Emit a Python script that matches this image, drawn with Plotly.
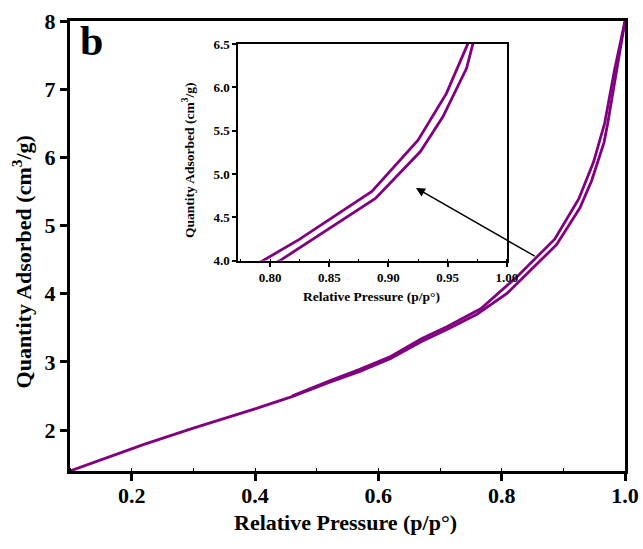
import plotly.graph_objects as go

# Adsorption branch (lower)
ads_p = [0.10, 0.16, 0.22, 0.30, 0.40, 0.46, 0.52, 0.57, 0.62, 0.67, 0.712, 0.76,
         0.808, 0.825, 0.859, 0.889, 0.927, 0.946, 0.966, 0.972, 0.986, 1.0]
ads_q = [1.40, 1.60, 1.79, 2.03, 2.31, 2.49, 2.70, 2.86, 3.05, 3.30, 3.48, 3.70,
         4.00, 4.15, 4.45, 4.72, 5.26, 5.66, 6.22, 6.50, 7.25, 8.0]
# Desorption branch (upper)
des_p = [0.46, 0.52, 0.57, 0.62, 0.67, 0.712, 0.766, 0.794, 0.808, 0.825, 0.886,
         0.925, 0.949, 0.967, 0.983, 1.0]
des_q = [2.50, 2.72, 2.89, 3.08, 3.34, 3.52, 3.78, 4.00, 4.11, 4.25, 4.80,
         5.39, 5.93, 6.50, 7.28, 8.0]

main_xticks = [0.2, 0.4, 0.6, 0.8, 1.0]
main_yticks = [2, 3, 4, 5, 6, 7, 8]
inset_xticks = [0.80, 0.85, 0.90, 0.95, 1.00]
inset_yticks = [4.0, 4.5, 5.0, 5.5, 6.0, 6.5]

PURPLE = "#800080"
FONT = "Liberation Serif"

fig = go.Figure()
for xa, ya in [("x", "y"), ("x2", "y2")]:
    fig.add_trace(go.Scatter(x=ads_p, y=ads_q, mode="lines", xaxis=xa, yaxis=ya,
                             line=dict(color=PURPLE, width=2.8), showlegend=False))
    fig.add_trace(go.Scatter(x=des_p, y=des_q, mode="lines", xaxis=xa, yaxis=ya,
                             line=dict(color=PURPLE, width=2.8), showlegend=False))

tf_main = dict(family=FONT, size=22, color="black", weight="bold")
tf_inset = dict(family=FONT, size=13, color="black", weight="bold")

fig.update_layout(
    width=643, height=549,
    margin=dict(l=70, r=18, t=21, b=78, autoexpand=False),
    plot_bgcolor="white", paper_bgcolor="white",
    font=dict(family=FONT, color="black"),
    xaxis=dict(range=[0.1, 1.0], domain=[0, 1], tickvals=main_xticks,
               ticktext=["0.2", "0.4", "0.6", "0.8", "1.0"], automargin=False,
               ticks="outside", ticklen=7, tickwidth=3, tickcolor="black",
               ticklabelstandoff=-4,
               showline=True, linewidth=3, linecolor="black", mirror=True,
               showgrid=False, zeroline=False, tickfont=tf_main,
               minor=dict(dtick=0.1, tick0=0.1, ticks="inside", ticklen=3, tickwidth=1, tickcolor="black")),
    yaxis=dict(range=[1.4, 8.0], domain=[0, 1], tickvals=main_yticks, automargin=False,
               ticks="outside", ticklen=7, tickwidth=3, tickcolor="black",
               showline=True, linewidth=3, linecolor="black", mirror=True,
               showgrid=False, zeroline=False, tickfont=tf_main),
    xaxis2=dict(range=[0.773, 1.0], domain=[0.303, 0.787], anchor="y2", automargin=False,
                tickvals=inset_xticks, ticktext=["0.80", "0.85", "0.90", "0.95", "1.00"],
                ticks="outside", ticklen=4, tickwidth=1.5, tickcolor="black",
                showline=True, linewidth=1.5, linecolor="black", mirror=True,
                showgrid=False, zeroline=False, tickfont=tf_inset,
                minor=dict(dtick=0.025, tick0=0.775, ticks="inside", ticklen=2, tickwidth=1, tickcolor="black")),
    yaxis2=dict(range=[4.0, 6.5], domain=[0.467, 0.949], anchor="x2", automargin=False,
                tickvals=inset_yticks, ticktext=["4.0", "4.5", "5.0", "5.5", "6.0", "6.5"],
                ticks="outside", ticklen=4, tickwidth=1.5, tickcolor="black",
                showline=True, linewidth=1.5, linecolor="black", mirror=True,
                showgrid=False, zeroline=False, tickfont=tf_inset),
)

fig.add_shape(type="rect", xref="x2 domain", yref="y2 domain", x0=0, x1=1, y0=0, y1=1,
              fillcolor="white", line=dict(width=0), layer="below")

# axis titles as annotations
fig.add_annotation(x=0.496, y=-0.115, xref="paper", yref="paper",
                   text="<b>Relative Pressure (p/p°)</b>", showarrow=False,
                   xanchor="center", yanchor="middle",
                   font=dict(family=FONT, size=22, color="black"))
fig.add_annotation(x=-0.086, y=0.464, xref="paper", yref="paper",
                   text="<b>Quantity Adsorbed (cm<sup>3</sup>/g)</b>", showarrow=False,
                   textangle=-90, xanchor="center", yanchor="middle",
                   font=dict(family=FONT, size=22, color="black"))
fig.add_annotation(x=0.544, y=0.387, xref="paper", yref="paper",
                   text="<b>Relative Pressure (p/p°)</b>", showarrow=False,
                   xanchor="center", yanchor="middle",
                   font=dict(family=FONT, size=13.5, color="black"))
fig.add_annotation(x=0.2126, y=0.691, xref="paper", yref="paper",
                   text="<b>Quantity Adsorbed (cm<sup>3</sup>/g)</b>", showarrow=False,
                   textangle=-90, xanchor="center", yanchor="middle",
                   font=dict(family=FONT, size=13.5, color="black"))

fig.add_annotation(x=0.661, y=5.55, ax=0.856, ay=4.54, xref="x", yref="y",
                   axref="x", ayref="y", text="", showarrow=True,
                   arrowhead=2, arrowsize=1.2, arrowwidth=1.5, arrowcolor="black")

fig.add_annotation(x=0.015, y=1.012, xref="paper", yref="paper", text="<b>b</b>",
                   showarrow=False, xanchor="left", yanchor="top",
                   font=dict(family=FONT, size=42, color="black"))

fig.write_html("out.html", config={"displayModeBar": False},
               post_script="document.body.style.margin='0';document.body.style.overflow='hidden';")
